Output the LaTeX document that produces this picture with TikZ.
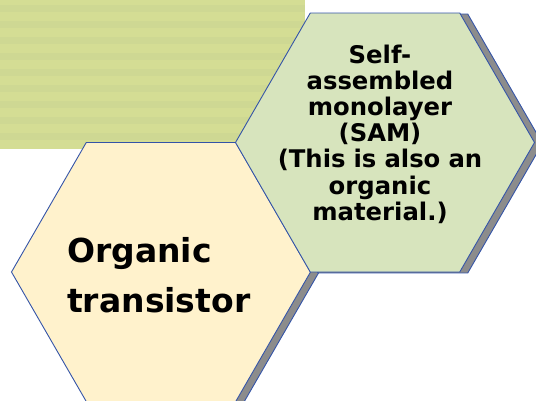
\documentclass[tikz,border=0pt]{standalone}
\usepackage{fontspec}
\setmainfont{DejaVu Sans}
\usetikzlibrary{positioning,shapes.geometric,shadows}
\definecolor{padgreen}{RGB}{212,221,148}
\definecolor{padstripe}{RGB}{206,216,147}
\definecolor{cellbeige}{RGB}{255,242,204}
\definecolor{cellgreen}{RGB}{215,228,189}
\definecolor{celledge}{RGB}{52,84,168}
\definecolor{cellshadow}{RGB}{140,140,140}

\begin{document}
\begin{tikzpicture}[x=1pt,y=-1pt,
  cell/.style={regular polygon,regular polygon sides=6,minimum size=299pt,inner sep=0pt,draw=celledge,line width=0.9pt,
    drop shadow={shadow xshift=8pt,shadow yshift=-1pt,opacity=1,fill=cellshadow,draw=celledge,line width=0.9pt}},
  bigtext/.style={font=\fontsize{33}{50}\selectfont\bfseries,text width=190pt,align=left,inner sep=0pt},
  smalltext/.style={font=\fontsize{24.3}{26.2}\selectfont\bfseries,text width=230pt,align=center,inner sep=0pt}
  ]
  \useasboundingbox (0,0) rectangle (536,400);

  % striped pad behind the cells
  \fill[padgreen] (0,0) rectangle (305,149);
  \foreach \y in {5,21,...,140}
    \fill[padstripe] (0,\y) rectangle (305,\y+7);

  \node[cell,fill=cellbeige] (transistor) at (161,272) {};
  \node[cell,fill=cellgreen] (sam) at (385,142.5) {};

  \node[bigtext,anchor=base west] (transistortext) at ([xshift=-94pt,yshift=10pt]transistor.center) {Organic\\transistor};
  \node[smalltext,anchor=base] (samtext) at ([xshift=-5pt,yshift=79.5pt]sam.center)
    {Self-\\assembled\\monolayer\\(SAM)\\(This is also an\\organic\\material.)};
\end{tikzpicture}
\end{document}
